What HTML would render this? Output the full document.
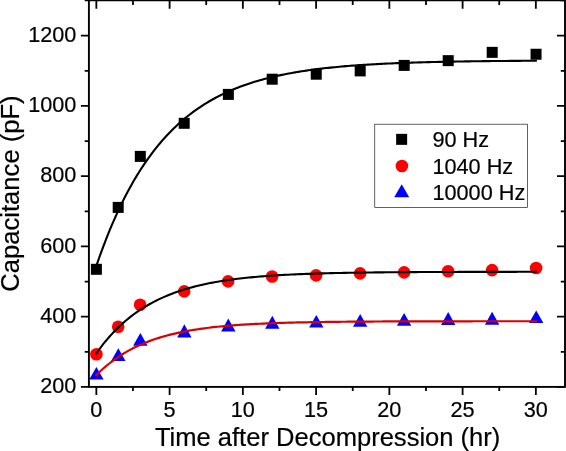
<!DOCTYPE html>
<html><head><meta charset="utf-8"><title>Capacitance vs Time</title>
<style>html,body{margin:0;padding:0;background:#fff;width:566px;height:451px;overflow:hidden}</style>
</head><body>
<svg width="566" height="451" viewBox="0 0 566 451" style="display:block">
<rect width="566" height="451" fill="#fff"/>
<rect x="88.9" y="0.3" width="476.1" height="386.59999999999997" fill="none" stroke="#000" stroke-width="1.9"/>
<path d="M96.35,386.90v8.0 M96.35,0.30v8.4 M132.97,386.90v4.2 M132.97,0.30v4.6000000000000005 M169.60,386.90v8.0 M169.60,0.30v8.4 M206.22,386.90v4.2 M206.22,0.30v4.6000000000000005 M242.85,386.90v8.0 M242.85,0.30v8.4 M279.48,386.90v4.2 M279.48,0.30v4.6000000000000005 M316.10,386.90v8.0 M316.10,0.30v8.4 M352.73,386.90v4.2 M352.73,0.30v4.6000000000000005 M389.35,386.90v8.0 M389.35,0.30v8.4 M425.98,386.90v4.2 M425.98,0.30v4.6000000000000005 M462.60,386.90v8.0 M462.60,0.30v8.4 M499.23,386.90v4.2 M499.23,0.30v4.6000000000000005 M535.85,386.90v8.0 M535.85,0.30v8.4 M88.90,386.90h-8.0 M565.00,386.90h-8.0 M88.90,351.78h-4.2 M565.00,351.78h-4.2 M88.90,316.66h-8.0 M565.00,316.66h-8.0 M88.90,281.54h-4.2 M565.00,281.54h-4.2 M88.90,246.42h-8.0 M565.00,246.42h-8.0 M88.90,211.30h-4.2 M565.00,211.30h-4.2 M88.90,176.18h-8.0 M565.00,176.18h-8.0 M88.90,141.06h-4.2 M565.00,141.06h-4.2 M88.90,105.94h-8.0 M565.00,105.94h-8.0 M88.90,70.82h-4.2 M565.00,70.82h-4.2 M88.90,35.70h-8.0 M565.00,35.70h-8.0 M88.90,0.30h-4.2 M565.00,0.30h-4.2" stroke="#000" stroke-width="1.8" fill="none"/>
<polygon points="96.40,367.10 103.60,379.60 89.20,379.60" fill="#00f"/>
<polygon points="118.30,348.30 125.50,360.90 111.10,360.90" fill="#00f"/>
<polygon points="140.35,333.05 147.55,345.70 133.15,345.70" fill="#00f"/>
<polygon points="184.35,324.26 191.55,337.60 177.15,337.60" fill="#00f"/>
<polygon points="228.30,318.50 235.50,331.60 221.10,331.60" fill="#00f"/>
<polygon points="272.30,315.80 279.50,328.80 265.10,328.80" fill="#00f"/>
<polygon points="316.30,315.06 323.50,327.60 309.10,327.60" fill="#00f"/>
<polygon points="360.20,314.00 367.40,326.80 353.00,326.80" fill="#00f"/>
<polygon points="404.10,313.10 411.30,325.86 396.90,325.86" fill="#00f"/>
<polygon points="448.20,312.00 455.40,324.90 441.00,324.90" fill="#00f"/>
<polygon points="492.10,311.80 499.30,324.80 484.90,324.80" fill="#00f"/>
<polygon points="536.20,310.50 543.40,323.10 529.00,323.10" fill="#00f"/>
<polyline points="96.35,375.11 98.56,372.92 100.77,370.82 102.98,368.81 105.18,366.87 107.39,365.02 109.60,363.24 111.81,361.53 114.02,359.89 116.23,358.32 118.44,356.81 120.64,355.37 122.85,353.98 125.06,352.65 127.27,351.37 129.48,350.15 131.69,348.97 133.90,347.85 136.10,346.76 138.31,345.73 140.52,344.73 142.73,343.78 144.94,342.86 147.15,341.98 149.36,341.14 151.56,340.33 153.77,339.55 155.98,338.81 158.19,338.09 160.40,337.41 162.61,336.75 164.81,336.12 167.02,335.52 169.23,334.93 171.44,334.38 173.65,333.84 175.86,333.33 178.07,332.84 180.27,332.37 182.48,331.91 184.69,331.48 186.90,331.06 189.11,330.66 191.32,330.28 193.53,329.91 195.73,329.56 197.94,329.22 200.15,328.90 202.36,328.59 204.57,328.29 206.78,328.00 208.99,327.72 211.19,327.46 213.40,327.21 215.61,326.96 217.82,326.73 220.03,326.51 222.24,326.29 224.45,326.09 226.65,325.89 228.86,325.70 231.07,325.52 233.28,325.34 235.49,325.18 237.70,325.02 239.91,324.86 242.11,324.72 244.32,324.57 246.53,324.44 248.74,324.31 250.95,324.18 253.16,324.06 255.37,323.95 257.57,323.84 259.78,323.73 261.99,323.63 264.20,323.53 266.41,323.44 268.62,323.35 270.82,323.26 273.03,323.18 275.24,323.10 277.45,323.02 279.66,322.95 281.87,322.88 284.08,322.81 286.28,322.75 288.49,322.69 290.70,322.63 292.91,322.57 295.12,322.52 297.33,322.46 299.54,322.41 301.74,322.37 303.95,322.32 306.16,322.28 308.37,322.23 310.58,322.19 312.79,322.15 315.00,322.12 317.20,322.08 319.41,322.05 321.62,322.01 323.83,321.98 326.04,321.95 328.25,321.92 330.46,321.89 332.66,321.87 334.87,321.84 337.08,321.81 339.29,321.79 341.50,321.77 343.71,321.75 345.92,321.73 348.12,321.71 350.33,321.69 352.54,321.67 354.75,321.65 356.96,321.63 359.17,321.62 361.38,321.60 363.58,321.59 365.79,321.57 368.00,321.56 370.21,321.54 372.42,321.53 374.63,321.52 376.83,321.51 379.04,321.50 381.25,321.48 383.46,321.47 385.67,321.46 387.88,321.45 390.09,321.45 392.29,321.44 394.50,321.43 396.71,321.42 398.92,321.41 401.13,321.40 403.34,321.40 405.55,321.39 407.75,321.38 409.96,321.38 412.17,321.37 414.38,321.37 416.59,321.36 418.80,321.36 421.01,321.35 423.21,321.35 425.42,321.34 427.63,321.34 429.84,321.33 432.05,321.33 434.26,321.32 436.47,321.32 438.67,321.32 440.88,321.31 443.09,321.31 445.30,321.31 447.51,321.30 449.72,321.30 451.93,321.30 454.13,321.29 456.34,321.29 458.55,321.29 460.76,321.29 462.97,321.28 465.18,321.28 467.39,321.28 469.59,321.28 471.80,321.28 474.01,321.27 476.22,321.27 478.43,321.27 480.64,321.27 482.84,321.27 485.05,321.27 487.26,321.26 489.47,321.26 491.68,321.26 493.89,321.26 496.10,321.26 498.30,321.26 500.51,321.26 502.72,321.26 504.93,321.25 507.14,321.25 509.35,321.25 511.56,321.25 513.76,321.25 515.97,321.25 518.18,321.25 520.39,321.25 522.60,321.25 524.81,321.25 527.02,321.25 529.22,321.24 531.43,321.24 533.64,321.24 535.85,321.24" fill="none" stroke="#d80000" stroke-width="2.2" stroke-linejoin="round" stroke-linecap="square"/>
<circle cx="96.4" cy="354.25" r="6.3" fill="#f00"/>
<circle cx="118.2" cy="326.8" r="6.3" fill="#f00"/>
<circle cx="140.1" cy="304.8" r="6.3" fill="#f00"/>
<circle cx="184.2" cy="291.4" r="6.3" fill="#f00"/>
<circle cx="228.1" cy="281.4" r="6.3" fill="#f00"/>
<circle cx="272.1" cy="276.5" r="6.3" fill="#f00"/>
<circle cx="316.1" cy="275.35" r="6.3" fill="#f00"/>
<circle cx="360.1" cy="273.35" r="6.3" fill="#f00"/>
<circle cx="404.1" cy="272.4" r="6.3" fill="#f00"/>
<circle cx="448.1" cy="271.2" r="6.3" fill="#f00"/>
<circle cx="492.1" cy="270.1" r="6.3" fill="#f00"/>
<circle cx="536.1" cy="268" r="6.3" fill="#f00"/>
<polyline points="96.35,353.30 98.56,350.24 100.77,347.28 102.98,344.45 105.18,341.71 107.39,339.08 109.60,336.55 111.81,334.12 114.02,331.77 116.23,329.52 118.44,327.34 120.64,325.25 122.85,323.24 125.06,321.31 127.27,319.45 129.48,317.65 131.69,315.93 133.90,314.27 136.10,312.67 138.31,311.13 140.52,309.65 142.73,308.23 144.94,306.86 147.15,305.54 149.36,304.27 151.56,303.05 153.77,301.87 155.98,300.74 158.19,299.65 160.40,298.60 162.61,297.59 164.81,296.62 167.02,295.69 169.23,294.79 171.44,293.92 173.65,293.09 175.86,292.29 178.07,291.52 180.27,290.77 182.48,290.06 184.69,289.37 186.90,288.71 189.11,288.07 191.32,287.46 193.53,286.87 195.73,286.30 197.94,285.75 200.15,285.23 202.36,284.72 204.57,284.24 206.78,283.77 208.99,283.32 211.19,282.88 213.40,282.46 215.61,282.06 217.82,281.67 220.03,281.30 222.24,280.94 224.45,280.60 226.65,280.27 228.86,279.95 231.07,279.64 233.28,279.34 235.49,279.06 237.70,278.79 239.91,278.52 242.11,278.27 244.32,278.02 246.53,277.79 248.74,277.56 250.95,277.34 253.16,277.13 255.37,276.93 257.57,276.74 259.78,276.55 261.99,276.37 264.20,276.20 266.41,276.03 268.62,275.87 270.82,275.72 273.03,275.57 275.24,275.43 277.45,275.29 279.66,275.16 281.87,275.03 284.08,274.91 286.28,274.79 288.49,274.68 290.70,274.57 292.91,274.46 295.12,274.36 297.33,274.26 299.54,274.17 301.74,274.08 303.95,273.99 306.16,273.91 308.37,273.83 310.58,273.75 312.79,273.68 315.00,273.60 317.20,273.54 319.41,273.47 321.62,273.40 323.83,273.34 326.04,273.28 328.25,273.23 330.46,273.17 332.66,273.12 334.87,273.07 337.08,273.02 339.29,272.97 341.50,272.93 343.71,272.88 345.92,272.84 348.12,272.80 350.33,272.76 352.54,272.73 354.75,272.69 356.96,272.66 359.17,272.62 361.38,272.59 363.58,272.56 365.79,272.53 368.00,272.50 370.21,272.47 372.42,272.45 374.63,272.42 376.83,272.40 379.04,272.37 381.25,272.35 383.46,272.33 385.67,272.31 387.88,272.29 390.09,272.27 392.29,272.25 394.50,272.23 396.71,272.21 398.92,272.20 401.13,272.18 403.34,272.17 405.55,272.15 407.75,272.14 409.96,272.12 412.17,272.11 414.38,272.10 416.59,272.08 418.80,272.07 421.01,272.06 423.21,272.05 425.42,272.04 427.63,272.03 429.84,272.02 432.05,272.01 434.26,272.00 436.47,271.99 438.67,271.98 440.88,271.98 443.09,271.97 445.30,271.96 447.51,271.95 449.72,271.95 451.93,271.94 454.13,271.93 456.34,271.93 458.55,271.92 460.76,271.92 462.97,271.91 465.18,271.91 467.39,271.90 469.59,271.90 471.80,271.89 474.01,271.89 476.22,271.88 478.43,271.88 480.64,271.87 482.84,271.87 485.05,271.87 487.26,271.86 489.47,271.86 491.68,271.86 493.89,271.85 496.10,271.85 498.30,271.85 500.51,271.84 502.72,271.84 504.93,271.84 507.14,271.83 509.35,271.83 511.56,271.83 513.76,271.83 515.97,271.83 518.18,271.82 520.39,271.82 522.60,271.82 524.81,271.82 527.02,271.82 529.22,271.81 531.43,271.81 533.64,271.81 535.85,271.81" fill="none" stroke="#000" stroke-width="2.1" stroke-linejoin="round" stroke-linecap="square"/>
<rect x="90.90" y="263.80" width="11.0" height="11.0" fill="#000"/>
<rect x="112.70" y="201.90" width="11.0" height="11.0" fill="#000"/>
<rect x="134.80" y="150.90" width="11.0" height="11.0" fill="#000"/>
<rect x="178.70" y="117.80" width="11.0" height="11.0" fill="#000"/>
<rect x="222.85" y="88.90" width="11.0" height="11.0" fill="#000"/>
<rect x="266.70" y="73.70" width="11.0" height="11.0" fill="#000"/>
<rect x="310.75" y="68.70" width="11.0" height="11.0" fill="#000"/>
<rect x="354.70" y="65.40" width="11.0" height="11.0" fill="#000"/>
<rect x="398.70" y="59.90" width="11.0" height="11.0" fill="#000"/>
<rect x="442.70" y="55.15" width="11.0" height="11.0" fill="#000"/>
<rect x="486.70" y="46.85" width="11.0" height="11.0" fill="#000"/>
<rect x="530.55" y="48.75" width="11.0" height="11.0" fill="#000"/>
<polyline points="96.35,265.87 98.56,259.49 100.77,253.31 102.98,247.32 105.18,241.52 107.39,235.89 109.60,230.44 111.81,225.16 114.02,220.05 116.23,215.09 118.44,210.29 120.64,205.63 122.85,201.12 125.06,196.75 127.27,192.52 129.48,188.42 131.69,184.44 133.90,180.59 136.10,176.86 138.31,173.24 140.52,169.74 142.73,166.34 144.94,163.05 147.15,159.86 149.36,156.78 151.56,153.78 153.77,150.88 155.98,148.07 158.19,145.35 160.40,142.71 162.61,140.15 164.81,137.68 167.02,135.28 169.23,132.95 171.44,130.70 173.65,128.51 175.86,126.40 178.07,124.35 180.27,122.36 182.48,120.44 184.69,118.57 186.90,116.76 189.11,115.01 191.32,113.32 193.53,111.67 195.73,110.08 197.94,108.53 200.15,107.04 202.36,105.59 204.57,104.18 206.78,102.82 208.99,101.51 211.19,100.23 213.40,98.99 215.61,97.79 217.82,96.63 220.03,95.50 222.24,94.41 224.45,93.35 226.65,92.33 228.86,91.34 231.07,90.37 233.28,89.44 235.49,88.54 237.70,87.66 239.91,86.82 242.11,85.99 244.32,85.20 246.53,84.43 248.74,83.68 250.95,82.95 253.16,82.25 255.37,81.57 257.57,80.91 259.78,80.28 261.99,79.66 264.20,79.06 266.41,78.48 268.62,77.91 270.82,77.37 273.03,76.84 275.24,76.33 277.45,75.83 279.66,75.35 281.87,74.89 284.08,74.43 286.28,74.00 288.49,73.57 290.70,73.16 292.91,72.76 295.12,72.38 297.33,72.01 299.54,71.64 301.74,71.29 303.95,70.95 306.16,70.62 308.37,70.30 310.58,70.00 312.79,69.70 315.00,69.41 317.20,69.12 319.41,68.85 321.62,68.59 323.83,68.33 326.04,68.08 328.25,67.84 330.46,67.61 332.66,67.39 334.87,67.17 337.08,66.95 339.29,66.75 341.50,66.55 343.71,66.36 345.92,66.17 348.12,65.99 350.33,65.82 352.54,65.65 354.75,65.48 356.96,65.32 359.17,65.17 361.38,65.02 363.58,64.87 365.79,64.73 368.00,64.60 370.21,64.46 372.42,64.34 374.63,64.21 376.83,64.09 379.04,63.98 381.25,63.86 383.46,63.75 385.67,63.65 387.88,63.54 390.09,63.45 392.29,63.35 394.50,63.26 396.71,63.17 398.92,63.08 401.13,62.99 403.34,62.91 405.55,62.83 407.75,62.75 409.96,62.68 412.17,62.61 414.38,62.54 416.59,62.47 418.80,62.40 421.01,62.34 423.21,62.28 425.42,62.22 427.63,62.16 429.84,62.10 432.05,62.05 434.26,61.99 436.47,61.94 438.67,61.89 440.88,61.85 443.09,61.80 445.30,61.75 447.51,61.71 449.72,61.67 451.93,61.63 454.13,61.59 456.34,61.55 458.55,61.51 460.76,61.47 462.97,61.44 465.18,61.41 467.39,61.37 469.59,61.34 471.80,61.31 474.01,61.28 476.22,61.25 478.43,61.22 480.64,61.20 482.84,61.17 485.05,61.14 487.26,61.12 489.47,61.09 491.68,61.07 493.89,61.05 496.10,61.03 498.30,61.01 500.51,60.98 502.72,60.96 504.93,60.95 507.14,60.93 509.35,60.91 511.56,60.89 513.76,60.87 515.97,60.86 518.18,60.84 520.39,60.83 522.60,60.81 524.81,60.80 527.02,60.78 529.22,60.77 531.43,60.76 533.64,60.74 535.85,60.73" fill="none" stroke="#000" stroke-width="2.1" stroke-linejoin="round" stroke-linecap="square"/>
<g font-family="'Liberation Sans', Arial, sans-serif" fill="#000" stroke="#000" stroke-width="0.2">
<text transform="translate(76.40,393.20) scale(1,1.04)" text-anchor="end" font-size="21.7">200</text>
<text transform="translate(76.40,322.96) scale(1,1.04)" text-anchor="end" font-size="21.7">400</text>
<text transform="translate(76.40,252.72) scale(1,1.04)" text-anchor="end" font-size="21.7">600</text>
<text transform="translate(76.40,182.48) scale(1,1.04)" text-anchor="end" font-size="21.7">800</text>
<text transform="translate(76.40,112.24) scale(1,1.04)" text-anchor="end" font-size="21.7">1000</text>
<text transform="translate(76.40,42.00) scale(1,1.04)" text-anchor="end" font-size="21.7">1200</text>
<text transform="translate(96.35,416.70) scale(1,1.04)" text-anchor="middle" font-size="21.7">0</text>
<text transform="translate(169.60,416.70) scale(1,1.04)" text-anchor="middle" font-size="21.7">5</text>
<text transform="translate(242.85,416.70) scale(1,1.04)" text-anchor="middle" font-size="21.7">10</text>
<text transform="translate(316.10,416.70) scale(1,1.04)" text-anchor="middle" font-size="21.7">15</text>
<text transform="translate(389.35,416.70) scale(1,1.04)" text-anchor="middle" font-size="21.7">20</text>
<text transform="translate(462.60,416.70) scale(1,1.04)" text-anchor="middle" font-size="21.7">25</text>
<text transform="translate(535.85,416.70) scale(1,1.04)" text-anchor="middle" font-size="21.7">30</text>
<text transform="translate(327.60,445.50) scale(1,1.0)" text-anchor="middle" font-size="25.55">Time after Decompression (hr)</text>
<text transform="translate(19.1,193.5) rotate(-90)" text-anchor="middle" font-size="25.6">Capacitance (pF)</text>
</g>
<rect x="374.75" y="124.2" width="152.75" height="83.3" fill="#fff" stroke="#202020" stroke-width="0.7"/>
<rect x="396.15" y="133.85" width="11.0" height="11.0" fill="#000"/>
<circle cx="401.9" cy="166.05" r="6.3" fill="#f00"/>
<polygon points="401.7,184.3 409.2,197.2 394.2,197.2" fill="#00f"/>
<g font-family="'Liberation Sans', Arial, sans-serif" fill="#000" stroke="#000" stroke-width="0.2">
<text transform="translate(432.40,146.70) scale(1,1.04)" font-size="21.7">90 Hz</text>
<text transform="translate(432.40,173.60) scale(1,1.04)" font-size="21.7">1040 Hz</text>
<text transform="translate(432.40,199.90) scale(1,1.04)" font-size="21.7">10000 Hz</text>
</g>
</svg>
</body></html>
